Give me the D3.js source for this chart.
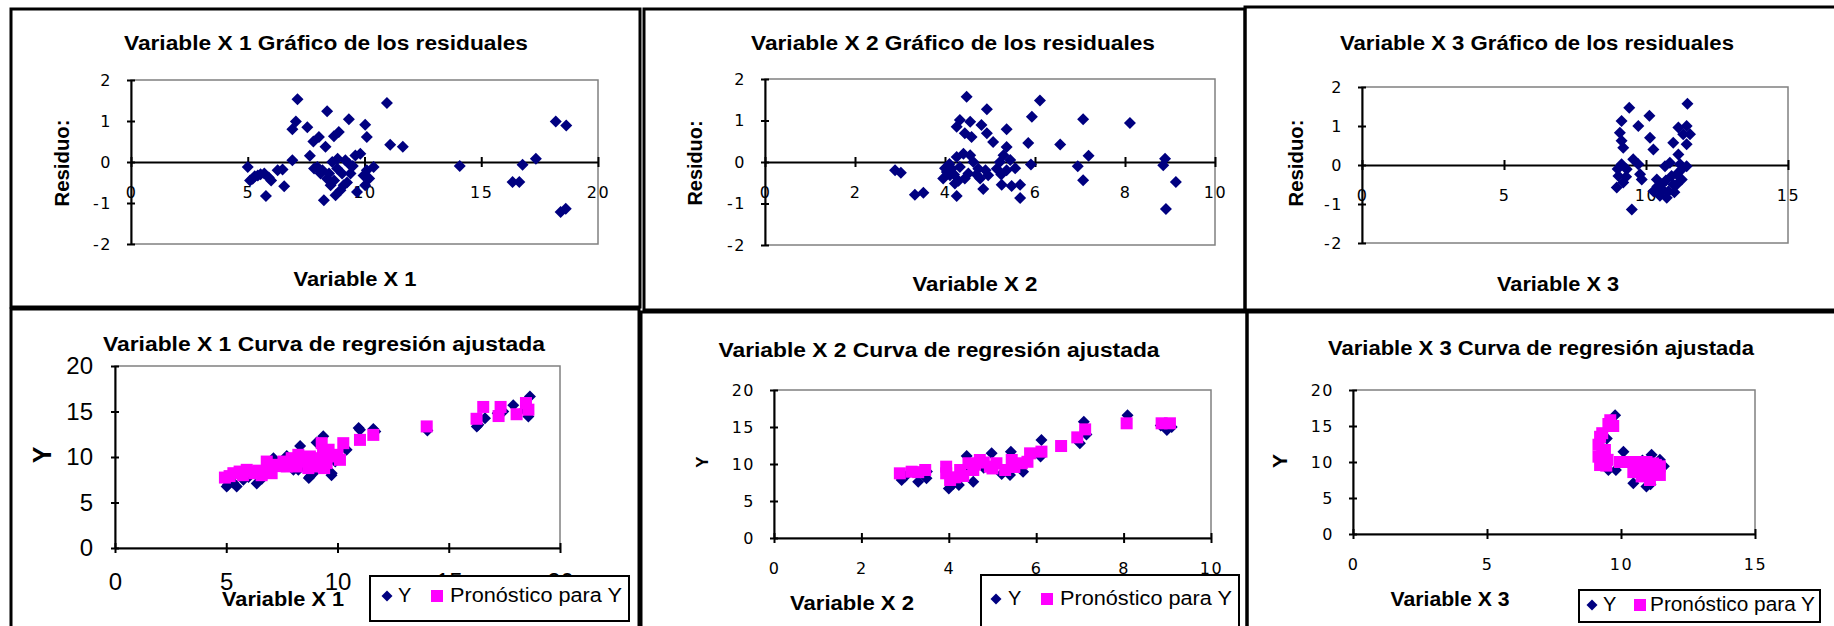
<!DOCTYPE html>
<html>
<head>
<meta charset="utf-8">
<script src="https://cdn.jsdelivr.net/npm/d3@7"></script>
<style>
html, body { margin: 0; padding: 0; background: #fff; }
svg { display: block; }
text { font-family: "Liberation Sans", Arial, sans-serif; }
</style>
</head>
<body>
<svg id="chart" width="1834" height="626"></svg>
<script>
// DATA

// residual plots: [x, residual]
var resid1 = [[5.0,-0.12],[5.1,-0.45],[5.21,-0.41],[5.3,-0.35],[5.43,-0.33],[5.55,-0.3],[5.71,-0.28],[5.78,-0.83],[5.9,-0.38],[6.0,-0.45],
	[6.28,-0.2],[6.49,-0.18],[6.56,-0.59],[6.91,0.04],[6.91,0.80],[7.06,0.99],[7.13,1.53],[7.55,0.85],[7.66,0.15],[7.81,0.50],
	[7.84,-0.16],[7.98,-0.12],[8.05,0.61],[8.12,-0.28],[8.2,-0.2],[8.26,-0.93],[8.33,0.37],[8.40,1.24],[8.40,-0.41],[8.48,-0.28],
	[8.55,-0.57],[8.62,0],[8.69,0.63],[8.7,-0.45],[8.76,-0.81],[8.83,-0.16],[8.85,0.08],[8.90,0.73],[8.97,-0.69],[9.04,-0.28],
	[9.11,-0.57],[9.18,0.04],[9.25,-0.5],[9.33,1.04],[9.33,-0.04],[9.40,-0.28],[9.5,-0.1],[9.61,0.16],[9.68,-0.73],[9.82,0.20],
	[9.96,-0.33],[10.03,0.91],[10.03,-0.57],[10.10,0.61],[10.10,-0.20],[10.2,-0.4],[10.39,-0.12],[10.96,1.44],[11.10,0.42],[11.64,0.37],
	[14.08,-0.10],[16.34,-0.49],[16.63,-0.49],[16.77,-0.07],[17.34,0.08],[18.19,0.99],[18.40,-1.22],[18.62,-1.14],[18.64,0.89]];

var resid2 = [[2.89,-0.2],[3.02,-0.26],[3.33,-0.79],[3.52,-0.74],[3.96,-0.40],[4.0,-0.15],[4.04,-0.24],[4.1,-0.05],[4.11,-0.32],[4.15,-0.16],
	[4.2,-0.3],[4.22,-0.52],[4.26,0.12],[4.26,0.85],[4.26,-0.82],[4.3,-0.45],[4.33,1.01],[4.33,-0.12],[4.41,0.20],[4.44,0.69],
	[4.44,-0.40],[4.48,1.57],[4.52,-0.28],[4.56,0.97],[4.56,0.16],[4.59,0.60],[4.63,0],[4.7,-0.3],[4.74,-0.16],[4.78,-0.40],
	[4.81,0.89],[4.85,-0.65],[4.9,-0.2],[4.93,1.27],[4.93,0.69],[4.96,-0.32],[5.07,0.48],[5.15,-0.16],[5.22,0],[5.25,-0.3],
	[5.26,-0.55],[5.30,0.16],[5.37,0.79],[5.37,0.36],[5.37,-0.2],[5.45,0.05],[5.48,-0.58],[5.56,-0.15],[5.67,-0.55],[5.67,-0.87],
	[5.85,0.46],[5.91,-0.06],[5.93,1.09],[6.11,1.48],[6.56,0.42],[6.95,-0.1],[7.07,1.03],[7.07,-0.44],[7.19,0.15],[8.11,0.94],
	[8.85,-0.08],[8.89,0.08],[8.91,-1.13],[9.13,-0.48]];

var resid3 = [[8.97,-0.58],[9.0,-0.1],[9.03,-0.28],[9.08,0.83],[9.14,1.13],[9.14,0.62],[9.14,0.02],[9.20,0.44],[9.20,-0.45],[9.3,-0.3],
	[9.32,-0.11],[9.41,1.47],[9.50,-1.14],[9.55,0.15],[9.73,1.0],[9.73,0.02],[9.79,-0.24],[9.85,-0.37],[10.12,1.26],[10.14,0.70],
	[10.26,0.40],[10.26,-0.67],[10.38,-0.37],[10.4,-0.55],[10.49,-0.79],[10.55,-0.5],[10.6,-0.65],[10.67,-0.03],[10.7,-0.4],[10.73,-0.84],
	[10.79,-0.67],[10.84,0.06],[10.90,-0.28],[10.96,0.57],[10.96,-0.5],[11.0,-0.7],[11.08,-0.24],[11.08,-0.5],[11.14,0.96],[11.14,0.27],
	[11.20,0.02],[11.26,-0.11],[11.26,-0.37],[11.31,0.79],[11.43,1.0],[11.43,0.53],[11.43,-0.03],[11.46,1.57],[11.55,0.79]];

// fitted curve plots: observed Y and "Pronóstico para Y", [x, y]
var obs1 = [[5.02,6.75],[5.08,6.94],[5.3,7.2],[5.47,6.75],[5.77,7.49],[6.0,7.8],[6.37,7.1],[6.6,7.6],[6.9,8.8],[7.0,8.5],
	[7.12,9.87],[7.5,9.3],[7.72,10.1],[8.02,8.6],[8.24,8.59],[8.32,11.2],[8.5,9.2],[8.71,7.7],[8.76,7.85],[8.9,8.2],
	[9.06,11.6],[9.36,12.27],[9.5,9.0],[9.73,8.0],[9.74,8.22],[9.9,9.5],[10.1,10.0],[10.41,10.8],[10.95,13.2],[11.01,13.0],
	[11.61,13.07],[11.7,12.8],[14.04,12.9],[16.26,13.36],[16.33,13.54],[16.63,14.27],[17.2,14.8],[17.45,15.0],[17.9,15.7],[18.4,15.2],
	[18.58,14.46],[18.65,16.66]];
var pred1 = [[4.94,7.74],[5.15,7.9],[5.32,8.22],[5.6,8.4],[5.75,8.0],[5.92,8.59],[6.1,8.4],[6.29,8.22],[6.45,8.5],[6.59,8.0],
	[6.82,9.5],[6.9,8.9],[7.04,8.22],[7.27,9.14],[7.4,9.0],[7.57,9.5],[7.72,8.96],[7.94,9.87],[8.0,9.3],[8.17,8.96],
	[8.24,10.24],[8.4,9.7],[8.5,9.5],[8.69,8.78],[8.76,10.06],[8.92,8.96],[9.0,9.5],[9.14,9.87],[9.29,11.52],[9.35,10.43],
	[9.4,8.78],[9.51,9.33],[9.6,10.8],[9.81,10.06],[10.0,10.24],[10.11,9.69],[10.26,11.52],[11.01,11.88],[11.61,12.43],[14.01,13.36],
	[16.25,14.2],[16.55,15.5],[17.24,14.5],[17.33,15.5],[18.05,14.7],[18.47,15.93],[18.58,15.2]];

var obs2 = [[2.92,7.84],[3.0,8.3],[3.3,7.61],[3.49,8.06],[3.5,9.0],[4.0,6.7],[4.1,7.3],[4.23,7.16],[4.4,9.0],[4.41,11.08],
	[4.56,7.61],[4.7,10.5],[4.8,9.5],[4.98,11.44],[5.0,9.8],[5.21,8.65],[5.40,8.51],[5.42,11.67],[5.6,10.0],[5.70,8.96],
	[6.1,11.0],[6.12,13.24],[7.0,12.8],[7.09,15.7],[7.15,14.0],[8.09,16.6],[8.85,15.2],[8.99,14.6],[9.1,15.0]];
var pred2 = [[2.88,8.74],[3.15,8.96],[3.3,8.9],[3.46,9.19],[3.94,8.74],[3.94,9.64],[4.03,7.84],[4.15,8.2],[4.26,9.19],[4.33,8.38],
	[4.45,10.1],[4.56,9.19],[4.6,9.9],[4.71,10.54],[4.8,10.2],[4.94,9.64],[5.0,9.4],[5.09,10.1],[5.29,9.19],[5.44,10.54],
	[5.5,9.6],[5.67,10.1],[5.8,10.3],[5.86,11.44],[6.12,11.67],[6.57,12.43],[6.94,13.6],[7.12,14.68],[8.07,15.5],[8.87,15.5],
	[9.06,15.5]];

var obs3 = [[9.3,10.0],[9.3,12.0],[9.47,13.28],[9.53,8.89],[9.6,15.5],[9.78,16.5],[9.81,8.89],[10.09,11.44],[10.46,7.04],[10.5,9.0],
	[10.8,10.2],[10.95,6.6],[11.0,8.5],[11.1,6.9],[11.14,11.0],[11.3,8.2],[11.45,10.3],[11.6,9.4]];
var pred3 = [[9.16,10.74],[9.16,12.4],[9.22,9.58],[9.22,13.5],[9.3,11.0],[9.3,14.0],[9.4,11.67],[9.45,9.5],[9.5,10.3],[9.53,15.28],
	[9.6,15.8],[9.71,15.0],[9.96,10.0],[10.25,10.0],[10.46,8.6],[10.52,10.0],[10.6,9.0],[10.7,9.3],[10.77,8.0],[10.8,9.6],
	[10.9,8.9],[10.95,10.0],[10.95,8.2],[11.08,7.5],[11.1,8.8],[11.2,9.8],[11.3,9.6],[11.33,9.1],[11.45,8.2],[11.45,9.4]];

// axis ticks
var residTicks = [-2, -1, 0, 1, 2];
var yTicks = [0, 5, 10, 15, 20];
var x1Ticks = [0, 5, 10, 15, 20];
var x2Ticks = [0, 2, 4, 6, 8, 10];
var x3Ticks = [0, 5, 10, 15];

// labels
var residTitles = ['Variable X 1 Gráfico de los residuales', 'Variable X 2 Gráfico de los residuales', 'Variable X 3 Gráfico de los residuales'];
var fitTitles = ['Variable X 1 Curva de regresión ajustada', 'Variable X 2 Curva de regresión ajustada', 'Variable X 3 Curva de regresión ajustada'];
var xNames = ['Variable X 1', 'Variable X 2', 'Variable X 3'];
var legendNames = ['Y', 'Pronóstico para Y'];

var NAVY = '#000080';
var PINK = '#ff00ff';
var SMALL_TICK_FONT = '"DejaVu Sans", Verdana, sans-serif';
var BIG_TICK_FONT = '"Liberation Sans", Arial, sans-serif';

// LAYOUT
var panels = [
	{frame:[11,9,640,307], plot:[131,80,598,244], xTicks:x1Ticks, yTicks:residTicks, tickFamily:SMALL_TICK_FONT, tickFont:16, tickSpacing:1.5, yPad:15,
		title:residTitles[0], titleXY:[326,50], titleLen:404, xTitle:xNames[0], xTitleXY:[355,286], xTitleLen:123,
		yTitle:'Residuo:', yTitleXY:[61,163], yTitleLen:87, yTitleFont:21,
		series:[{data:resid1, shape:'diamond'}]},
	{frame:[644,9,1245,310], plot:[765,79,1215,245], xTicks:x2Ticks, yTicks:residTicks, tickFamily:SMALL_TICK_FONT, tickFont:16, tickSpacing:1.5, yPad:15,
		title:residTitles[1], titleXY:[953,50], titleLen:404, xTitle:xNames[1], xTitleXY:[975,291], xTitleLen:125,
		yTitle:'Residuo:', yTitleXY:[694,163], yTitleLen:85, yTitleFont:21,
		series:[{data:resid2, shape:'diamond'}]},
	{frame:[1245,7,1845,310], plot:[1362,87,1788,243], xTicks:x3Ticks, yTicks:residTicks, tickFamily:SMALL_TICK_FONT, tickFont:16, tickSpacing:1.5, yPad:15,
		title:residTitles[2], titleXY:[1537,50], titleLen:394, xTitle:xNames[2], xTitleXY:[1558,291], xTitleLen:122,
		yTitle:'Residuo:', yTitleXY:[1295,163], yTitleLen:87, yTitleFont:21,
		series:[{data:resid3, shape:'diamond'}]},
	{frame:[11,309,639,640], plot:[115,366,560,548], xTicks:x1Ticks, yTicks:yTicks, tickFamily:BIG_TICK_FONT, tickFont:24, tickSpacing:0, yPad:18,
		title:fitTitles[0], titleXY:[324,351], titleLen:442, xTitle:xNames[0], xTitleXY:[283,606], xTitleLen:122,
		yTitle:'Y', yTitleXY:[42,455], yTitleFont:25,
		series:[{data:obs1, shape:'diamond'}, {data:pred1, shape:'square'}],
		legend:{box:[370,576,629,621], base:602, diamondX:387, yX:398, squareX:437, textX:450, textLen:172}},
	{frame:[641,312,1247,640], plot:[774,390,1211,538], xTicks:x2Ticks, yTicks:yTicks, tickFamily:SMALL_TICK_FONT, tickFont:16, tickSpacing:1.5, yPad:15,
		title:fitTitles[1], titleXY:[939,357], titleLen:441, xTitle:xNames[1], xTitleXY:[852,610], xTitleLen:124,
		yTitle:'Y', yTitleXY:[702,462], yTitleFont:17,
		series:[{data:obs2, shape:'diamond'}, {data:pred2, shape:'square'}],
		legend:{box:[981,575,1239,632], base:605, diamondX:996, yX:1008, squareX:1047, textX:1060, textLen:172}},
	{frame:[1247,312,1845,640], plot:[1353,390,1755,534], xTicks:x3Ticks, yTicks:yTicks, tickFamily:SMALL_TICK_FONT, tickFont:16, tickSpacing:1.5, yPad:15,
		title:fitTitles[2], titleXY:[1541,355], titleLen:426, xTitle:xNames[2], xTitleXY:[1450,606], xTitleLen:119,
		yTitle:'Y', yTitleXY:[1279,461], yTitleFont:21,
		series:[{data:obs3, shape:'diamond'}, {data:pred3, shape:'square'}],
		legend:{box:[1579,590,1820,622], base:611, diamondX:1592, yX:1603, squareX:1640, textX:1650, textLen:165}}
];

var svg = d3.select('#chart');

function diamondPath(r) {
	return 'M0,' + (-r) + 'L' + r + ',0L0,' + r + 'L' + (-r) + ',0Z';
}

function drawMarker(g, shape, x, y, r) {
	if (shape == 'diamond') {
		g.append('path')
			.attr('d', diamondPath(r))
			.attr('transform', 'translate(' + x + ',' + y + ')')
			.attr('fill', NAVY);
	} else {
		g.append('rect')
			.attr('x', x - r).attr('y', y - r)
			.attr('width', 2 * r).attr('height', 2 * r)
			.attr('fill', PINK);
	}
}

// plain integer labels with a hyphen minus, as in the original
var fmt = function(d) { return String(d); };

function drawPanel(p) {
	var g = svg.append('g');

	// frame of the chart object
	g.append('rect')
		.attr('x', p.frame[0]).attr('y', p.frame[1])
		.attr('width', p.frame[2] - p.frame[0]).attr('height', p.frame[3] - p.frame[1])
		.attr('fill', 'none').attr('stroke', '#000').attr('stroke-width', 3);

	// scales
	var x = d3.scaleLinear()
		.domain(d3.extent(p.xTicks))
		.range([p.plot[0], p.plot[2]]);
	var y = d3.scaleLinear()
		.domain(d3.extent(p.yTicks))
		.range([p.plot[3], p.plot[1]]);

	// plot area border (gray)
	g.append('rect')
		.attr('x', p.plot[0]).attr('y', p.plot[1])
		.attr('width', p.plot[2] - p.plot[0]).attr('height', p.plot[3] - p.plot[1])
		.attr('fill', 'none').attr('stroke', '#808080').attr('stroke-width', 1.5);

	// y axis
	var gy = g.append('g')
		.attr('transform', 'translate(' + p.plot[0] + ',0)')
		.call(d3.axisLeft(y).tickValues(p.yTicks).tickFormat(fmt).tickSizeInner(4).tickSizeOuter(0).tickPadding(p.yPad));
	gy.selectAll('.tick line').attr('x1', 4);

	// x axis sits on y = 0
	var gx = g.append('g')
		.attr('transform', 'translate(0,' + y(0) + ')')
		.call(d3.axisBottom(x).tickValues(p.xTicks).tickFormat(fmt).tickSizeInner(5).tickSizeOuter(0).tickPadding(20));
	gx.selectAll('.tick line').attr('y1', -5);

	[gx, gy].forEach(function(ax) {
		ax.select('.domain').attr('stroke', '#000').attr('stroke-width', 2);
		ax.selectAll('.tick line').attr('stroke', '#000').attr('stroke-width', 2);
		ax.selectAll('.tick text')
			.attr('fill', '#000')
			.style('font-family', p.tickFamily)
			.style('font-size', p.tickFont + 'px')
			.style('letter-spacing', p.tickSpacing + 'px');
	});

	// points
	var pts = g.append('g');
	p.series.forEach(function(s) {
		s.data.forEach(function(d) {
			drawMarker(pts, s.shape, x(d[0]), y(d[1]), 6);
		});
	});

	// titles
	g.append('text')
		.attr('x', p.titleXY[0]).attr('y', p.titleXY[1])
		.attr('text-anchor', 'middle')
		.attr('textLength', p.titleLen).attr('lengthAdjust', 'spacingAndGlyphs')
		.style('font-weight', 'bold').style('font-size', '20px')
		.text(p.title);

	g.append('text')
		.attr('x', p.xTitleXY[0]).attr('y', p.xTitleXY[1])
		.attr('text-anchor', 'middle')
		.attr('textLength', p.xTitleLen).attr('lengthAdjust', 'spacingAndGlyphs')
		.style('font-weight', 'bold').style('font-size', '21px')
		.text(p.xTitle);

	var yt = g.append('text')
		.attr('transform', 'translate(' + p.yTitleXY[0] + ',' + p.yTitleXY[1] + ') rotate(-90)')
		.attr('text-anchor', 'middle')
		.attr('dy', '0.36em')
		.style('font-weight', 'bold').style('font-size', p.yTitleFont + 'px')
		.text(p.yTitle);
	if (p.yTitleLen) yt.attr('textLength', p.yTitleLen).attr('lengthAdjust', 'spacingAndGlyphs');

	// legend
	if (p.legend) {
		var L = p.legend;
		var lg = g.append('g');
		lg.append('rect')
			.attr('x', L.box[0]).attr('y', L.box[1])
			.attr('width', L.box[2] - L.box[0]).attr('height', L.box[3] - L.box[1])
			.attr('fill', '#fff').attr('stroke', '#000').attr('stroke-width', 2);
		drawMarker(lg, 'diamond', L.diamondX, L.base - 6, 5.5);
		lg.append('text')
			.attr('x', L.yX).attr('y', L.base)
			.style('font-size', '20px')
			.text(legendNames[0]);
		drawMarker(lg, 'square', L.squareX, L.base - 6, 6);
		lg.append('text')
			.attr('x', L.textX).attr('y', L.base)
			.attr('textLength', L.textLen).attr('lengthAdjust', 'spacingAndGlyphs')
			.style('font-size', '20px')
			.text(legendNames[1]);
	}
}

panels.forEach(drawPanel);
</script>
</body>
</html>
